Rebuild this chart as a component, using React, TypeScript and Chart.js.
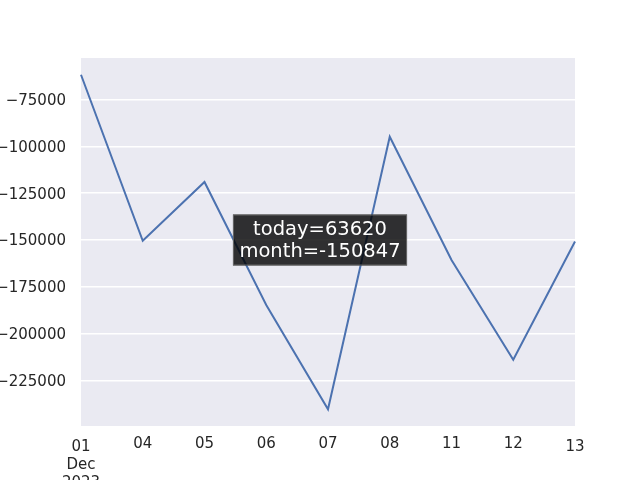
import React, { useEffect, useRef } from "react";
import { Chart, registerables } from "chart.js";

Chart.register(...registerables);

const categories = ["01", "04", "05", "06", "07", "08", "11", "12", "13"];
const xTickLabels = ["01\nDec\n2023", "04", "05", "06", "07", "08", "11", "12", "13"];
const monthValues = [-61700, -150400, -119000, -184700, -240450, -94860, -160700, -214000, -150847];
const yTicks = [-225000, -200000, -175000, -150000, -125000, -100000, -75000];
const annotationLines = ["today=63620", "month=-150847"];

const FONT = "'DejaVu Sans', sans-serif";

export default function App() {
  const ref = useRef<HTMLCanvasElement | null>(null);

  useEffect(() => {
    if (!ref.current) return;
    const bgPlugin = {
      id: "bg",
      beforeDraw(chart: any) {
        const { ctx, chartArea } = chart;
        ctx.save();
        ctx.fillStyle = "#ffffff";
        ctx.fillRect(0, 0, chart.width, chart.height);
        ctx.fillStyle = "#EAEAF2";
        ctx.fillRect(chartArea.left, chartArea.top, chartArea.right - chartArea.left, chartArea.bottom - chartArea.top);
        ctx.restore();
      },
    };
    const xLabelPlugin = {
      id: "xlabels",
      afterDraw(chart: any) {
        const { ctx } = chart;
        const xs = chart.scales.x;
        ctx.save();
        ctx.font = `15px ${FONT}`;
        ctx.fillStyle = "#262626";
        ctx.textAlign = "center";
        ctx.textBaseline = "middle";
        const n = xTickLabels.length;
        xTickLabels.forEach((lab, i) => {
          const x = xs.getPixelForValue(i);
          const dy = i === 0 || i === n - 1 ? 3 : 0;
          lab.split("\n").forEach((line, j) => {
            ctx.fillText(line, x, xs.top + 18 + dy + j * 18);
          });
        });
        ctx.restore();
      },
    };
    const annotPlugin = {
      id: "annot",
      afterDraw(chart: any) {
        const { ctx } = chart;
        const cx = chart.width / 2;
        const cy = chart.height / 2;
        ctx.save();
        ctx.font = `19.5px ${FONT}`;
        const w = Math.max(...annotationLines.map((l) => ctx.measureText(l).width));
        const lh = 22.5;
        const bw = w + 13;
        const bh = lh * annotationLines.length + 6;
        ctx.fillStyle = "rgba(0,0,0,0.8)";
        ctx.fillRect(cx - bw / 2, cy - bh / 2, bw, bh);
        ctx.strokeStyle = "rgba(110,110,110,0.9)";
        ctx.lineWidth = 1;
        ctx.strokeRect(cx - bw / 2 + 0.5, cy - bh / 2 + 0.5, bw - 1, bh - 1);
        ctx.fillStyle = "#ffffff";
        ctx.textAlign = "center";
        ctx.textBaseline = "middle";
        annotationLines.forEach((l, i) => {
          ctx.fillText(l, cx, cy + 1 - ((annotationLines.length - 1) * lh) / 2 + i * lh);
        });
        ctx.restore();
      },
    };

    const chart = new Chart(ref.current, {
      type: "line",
      data: {
        labels: categories,
        datasets: [
          {
            data: monthValues,
            borderColor: "#4C72B0",
            borderWidth: 2,
            pointRadius: 0,
            tension: 0,
            fill: false,
          },
        ],
      },
      options: {
        responsive: false,
        animation: false,
        events: [],
        layout: { padding: { top: 58, right: 65, left: 0, bottom: 0 } },
        plugins: { legend: { display: false }, tooltip: { enabled: false } },
        scales: {
          x: {
            type: "category",
            offset: false,
            grid: { display: false },
            border: { display: false },
            ticks: { display: false },
            afterFit(scale: any) {
              scale.height = 54;
            },
          },
          y: {
            type: "linear",
            min: -249390,
            max: -52750,
            afterBuildTicks(scale: any) {
              scale.ticks = yTicks.map((v) => ({ value: v }));
            },
            afterFit(scale: any) {
              scale.width = 81;
            },
            grid: { color: "#ffffff", lineWidth: 1.5, drawTicks: false },
            border: { display: false },
            ticks: {
              padding: 15,
              labelOffset: 1.5,
              color: "#262626",
              font: { family: FONT, size: 15 },
              callback: (v: any) => String(v).replace("-", "\u2212"),
            },
          },
        },
      },
      plugins: [bgPlugin, xLabelPlugin, annotPlugin],
    });
    return () => chart.destroy();
  }, []);

  return (
    <div style={{ position: "fixed", left: 0, top: 0, width: 640, height: 480 }}>
      <canvas ref={ref} width={640} height={480} style={{ width: 640, height: 480 }} />
    </div>
  );
}
